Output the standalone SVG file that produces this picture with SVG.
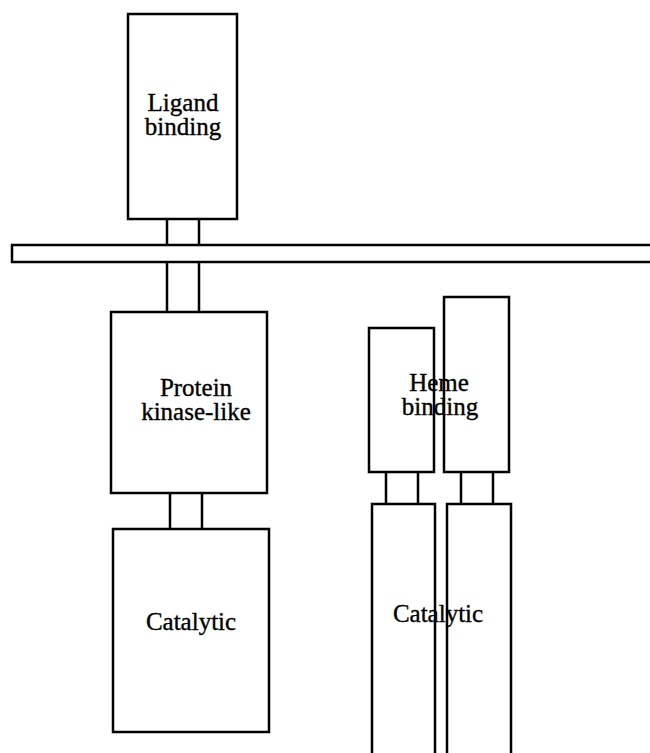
<svg xmlns="http://www.w3.org/2000/svg" width="650" height="753" viewBox="0 0 650 753">
<style>
.b{fill:#fff;stroke:#000;stroke-width:2.5}
.s{fill:none;stroke:#000;stroke-width:2.5}
text{font-family:"Liberation Serif","Times New Roman",serif;font-size:25px;fill:#000;stroke:#000;stroke-width:0.35;text-anchor:middle}
</style>
<rect width="650" height="753" fill="#fff"/>
<g id="connectors">
<path class="s" d="M167 219V245M199 219V245M167 262V312M199 262V312M170 493V529M202 493V529M386 472V504M418 472V504M461 472V504M493 472V504"/>
</g>
<g id="membrane"><rect class="b" x="12" y="245" width="645" height="17"/></g>
<g id="ligand-binding"><rect class="b" x="128" y="14" width="109" height="205"/><text x="183" y="111">Ligand</text><text x="183" y="135">binding</text></g>
<g id="protein-kinase-like"><rect class="b" x="111" y="312" width="156" height="181"/><text x="196" y="396">Protein</text><text x="196" y="420">kinase-like</text></g>
<g id="catalytic-1"><rect class="b" x="113" y="529" width="156" height="203"/><text x="191" y="630">Catalytic</text></g>
<g id="heme-binding-1"><rect class="b" x="369" y="328" width="65" height="144"/></g>
<g id="heme-binding-2"><rect class="b" x="444" y="297" width="65" height="175"/></g>
<g id="catalytic-2"><rect class="b" x="372" y="504" width="63" height="260"/></g>
<g id="catalytic-3"><rect class="b" x="447" y="504" width="64" height="260"/></g>
<text x="439" y="391">Heme</text><text x="440" y="415">binding</text>
<text x="438" y="622">Catalytic</text>
</svg>
